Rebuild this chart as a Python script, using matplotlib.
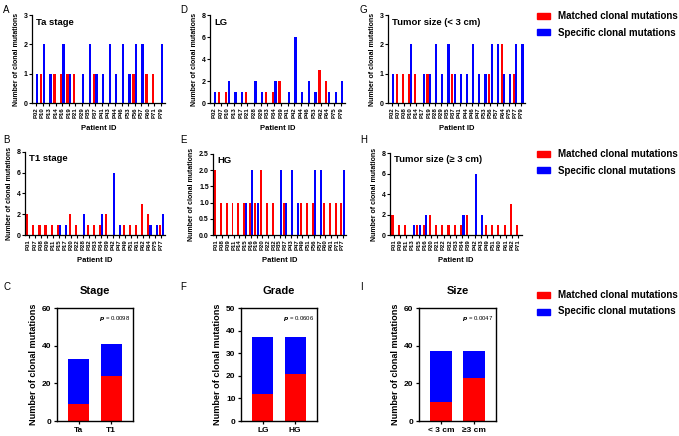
import numpy as np
import matplotlib.pyplot as plt

plt.rcParams['font.family'] = ['Liberation Sans', 'DejaVu Sans']
plt.rcParams['font.weight'] = 'bold'
plt.rcParams['axes.labelweight'] = 'bold'
plt.rcParams['axes.titleweight'] = 'bold'

RED = '#ff0000'
BLUE = '#0000ff'

# A: Ta stage
ta_ids = ['P02', 'P10', 'P13', 'P14', 'P16', 'P19', 'P21', 'P29', 'P35', 'P37',
          'P41', 'P43', 'P44', 'P46', 'P53', 'P56', 'P57', 'P60', 'P71', 'P79']
ta_matched = [0, 1, 0, 1, 1, 1, 1, 0, 0, 1, 0, 0, 0, 0, 0, 1, 0, 1, 1, 0]
ta_specific = [1, 2, 1, 0, 2, 1, 0, 1, 2, 1, 1, 2, 1, 2, 1, 2, 2, 0, 0, 2]

# B: T1 stage
t1_ids = ['P01', 'P07', 'P08', 'P09', 'P11', 'P15', 'P17', 'P20', 'P22', 'P28', 'P32', 'P33',
          'P34', 'P39', 'P42', 'P47', 'P49', 'P51', 'P61', 'P62', 'P64', 'P75', 'P77']
t1_matched = [2, 1, 1, 1, 1, 1, 0, 2, 1, 0, 1, 1, 1, 2, 0, 0, 1, 1, 1, 3, 2, 0, 1]
t1_specific = [0, 0, 0, 0, 0, 1, 1, 0, 0, 2, 0, 0, 2, 0, 6, 1, 0, 0, 0, 0, 1, 1, 2]

# D: LG
lg_ids = ['P02', 'P07', 'P10', 'P13', 'P17', 'P21', 'P28', 'P29', 'P33', 'P34',
          'P39', 'P41', 'P42', 'P44', 'P46', 'P53', 'P62', 'P64', 'P75', 'P79']
lg_matched = [0, 1, 1, 0, 0, 1, 0, 0, 1, 1, 2, 0, 0, 0, 0, 0, 3, 2, 0, 0]
lg_specific = [1, 0, 2, 1, 1, 0, 2, 1, 0, 2, 0, 1, 6, 1, 2, 1, 0, 1, 1, 2]

# E: HG
hg_ids = ['P01', 'P08', 'P09', 'P11', 'P14', 'P15', 'P16', 'P19', 'P20', 'P22', 'P32', 'P35',
          'P37', 'P43', 'P47', 'P49', 'P51', 'P56', 'P57', 'P60', 'P61', 'P71', 'P77']
hg_matched = [2, 1, 1, 1, 1, 1, 1, 1, 2, 1, 1, 0, 1, 0, 0, 1, 1, 1, 0, 1, 1, 1, 1]
hg_specific = [0, 0, 0, 0, 0, 1, 2, 1, 0, 0, 0, 2, 1, 2, 1, 0, 0, 2, 2, 0, 0, 0, 2]

# G: tumor size < 3 cm
small_ids = ['P02', 'P07', 'P08', 'P10', 'P14', 'P17', 'P19', 'P28', 'P29', 'P35', 'P37',
             'P41', 'P44', 'P46', 'P47', 'P53', 'P56', 'P57', 'P64', 'P75', 'P77', 'P79']
small_matched = [0, 1, 1, 1, 1, 0, 1, 0, 0, 0, 1, 0, 0, 0, 0, 0, 1, 0, 2, 0, 1, 0]
small_specific = [1, 0, 0, 2, 0, 1, 1, 2, 1, 2, 1, 1, 1, 2, 1, 1, 2, 2, 1, 1, 2, 2]

# H: tumor size >= 3 cm
large_ids = ['P01', 'P09', 'P11', 'P13', 'P15', 'P16', 'P20', 'P21', 'P22', 'P32', 'P33',
             'P34', 'P39', 'P42', 'P43', 'P49', 'P51', 'P60', 'P61', 'P62', 'P71']
large_matched = [2, 1, 1, 0, 1, 1, 2, 1, 1, 1, 1, 1, 2, 0, 0, 1, 1, 1, 1, 3, 1]
large_specific = [0, 0, 0, 1, 1, 2, 0, 0, 0, 0, 0, 2, 0, 6, 2, 0, 0, 0, 0, 0, 0]

# C, F, I: totals
stage_groups = ['Ta', 'T1']
stage_matched = [9, 24]
stage_specific = [24, 17]
grade_groups = ['LG', 'HG']
grade_matched = [12, 21]
grade_specific = [25, 16]
size_groups = ['< 3 cm', '≥3 cm']
size_matched = [10, 23]
size_specific = [27, 14]
p_values = ['0.0098', '0.0606', '0.0047']

W, H = 679, 436
fig = plt.figure(figsize=(W / 100, H / 100), dpi=100)


def add_ax(x0, y0, x1, y1):
    return fig.add_axes([x0 / W, 1 - y1 / H, (x1 - x0) / W, (y1 - y0) / H])


def patient_panel(box, ids, matched, specific, title, yticks, fmt=None):
    ax = add_ax(*box)
    x = np.arange(len(ids))
    ax.bar(x - 0.2, matched, 0.34, color=RED)
    ax.bar(x + 0.2, specific, 0.34, color=BLUE)
    ax.set_xlim(-0.6, len(ids) - 0.4)
    ax.set_ylim(0, yticks[-1])
    ax.set_yticks(yticks)
    if fmt:
        ax.set_yticklabels([fmt % v for v in yticks])
    ax.set_xticks(x)
    ax.set_xticklabels(ids, rotation=90, fontsize=4.3)
    ax.tick_params(axis='y', labelsize=5, length=2, width=0.8, pad=1)
    ax.tick_params(axis='x', length=2, width=0.8, pad=1)
    for s in ['top', 'right']:
        ax.spines[s].set_visible(False)
    for s in ['left', 'bottom']:
        ax.spines[s].set_linewidth(0.9)
    ax.set_ylabel('Number of clonal mutations', fontsize=5, labelpad=3)
    ax.set_xlabel('Patient ID', fontsize=5.5, labelpad=5)
    ax.text(0.03, 0.97, title, transform=ax.transAxes, fontsize=6.8,
            va='top', ha='left')
    return ax


def summary_panel(box, groups, matched, specific, title, ymax, step, p):
    ax = add_ax(*box)
    x = np.arange(len(groups))
    ax.bar(x, matched, 0.66, color=RED)
    ax.bar(x, specific, 0.66, bottom=matched, color=BLUE)
    ax.set_xlim(-0.67, 1.67)
    ax.set_ylim(0, ymax)
    ax.set_yticks(np.arange(0, ymax + 1, step))
    ax.set_xticks(x)
    ax.set_xticklabels(groups)
    ax.tick_params(labelsize=6, length=2.5, width=0.9, pad=1.5)
    for s in ax.spines.values():
        s.set_linewidth(1.0)
    ax.set_ylabel('Number of clonal mutations', fontsize=6.6, labelpad=3)
    ax.set_title(title, fontsize=8, pad=10)
    ax.text(0.96, 0.95, r'$\it{p}$ = ' + p, transform=ax.transAxes,
            fontsize=4.3, ha='right', va='top', fontweight='normal')
    return ax


patient_panel((32, 15, 165, 103), ta_ids, ta_matched, ta_specific, 'Ta stage', [0, 1, 2, 3])
patient_panel((210, 15, 345, 103), lg_ids, lg_matched, lg_specific, 'LG', [0, 2, 4, 6, 8])
patient_panel((388, 15, 525, 103), small_ids, small_matched, small_specific,
              'Tumor size (< 3 cm)', [0, 1, 2, 3])
patient_panel((25, 152, 165, 235), t1_ids, t1_matched, t1_specific, 'T1 stage', [0, 2, 4, 6, 8])
patient_panel((213, 154, 346, 235), hg_ids, hg_matched, hg_specific, 'HG',
              [0, 0.5, 1.0, 1.5, 2.0, 2.5], fmt='%.1f')
patient_panel((390, 153, 522, 235), large_ids, large_matched, large_specific,
              'Tumor size (≥ 3 cm)', [0, 2, 4, 6, 8])

summary_panel((57, 308, 133, 421), stage_groups, stage_matched, stage_specific, 'Stage', 60, 20, p_values[0])
summary_panel((241, 308, 317, 421), grade_groups, grade_matched, grade_specific, 'Grade', 50, 10, p_values[1])
summary_panel((419, 308, 496, 421), size_groups, size_matched, size_specific, 'Size', 60, 20, p_values[2])

# panel letters
for letter, (px, py) in zip('ABCDEFGHI', [(3, 10), (3, 140), (3, 287), (180, 10), (180, 140),
                                          (180, 287), (360, 10), (360, 140), (360, 287)]):
    fig.text(px / W, 1 - py / H, letter, fontsize=7, fontweight='normal', va='center')

# legends
for ly in [16, 154, 295]:
    for i, (lab, col) in enumerate([('Matched clonal mutations', RED),
                                    ('Specific clonal mutations', BLUE)]):
        yy = ly + i * 16.5
        fig.patches.append(plt.Rectangle((537 / W, 1 - (yy + 3) / H), 13 / W, 6 / H,
                                         color=col, transform=fig.transFigure))
        fig.text(558 / W, 1 - yy / H, lab, fontsize=7, va='center')

fig.savefig('out.png', dpi=100)
